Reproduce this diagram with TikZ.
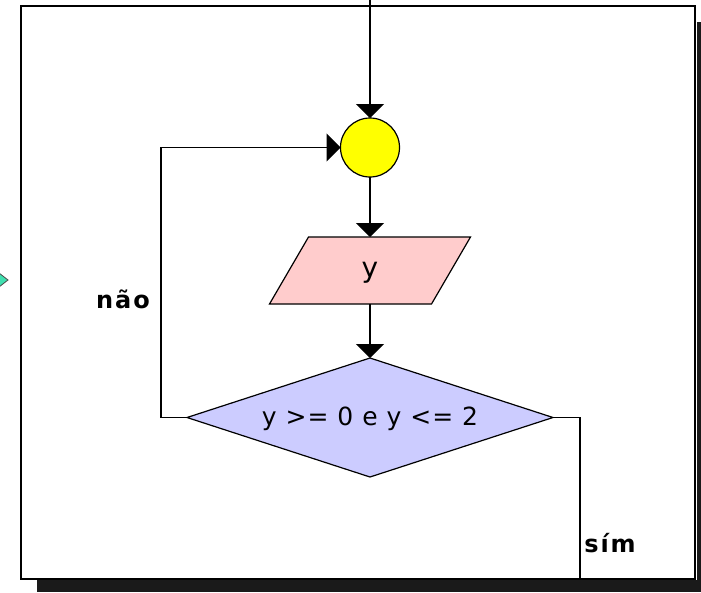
\documentclass[tikz,border=0pt]{standalone}
\usepackage{fontspec}
\setmainfont{DejaVu Sans}
\usetikzlibrary{shapes.geometric,arrows.meta}
\definecolor{yel}{RGB}{255,255,0}
\definecolor{pinkf}{RGB}{255,204,204}
\definecolor{lav}{RGB}{204,204,255}
\definecolor{mint}{RGB}{64,224,176}
\definecolor{shad}{RGB}{26,26,26}
\tikzset{
  conn/.style={line width=1.5pt, draw=black},
  arr/.style={conn, -{Triangle[length=14pt,width=28pt]}},
  lbl/.style={font=\fontsize{24}{26}\selectfont\bfseries\addfontfeatures{LetterSpace=8}, inner sep=0pt},
  txt/.style={font=\fontsize{25}{27}\selectfont\addfontfeatures{LetterSpace=4}, inner sep=0pt},
  bigtxt/.style={font=\fontsize{28}{30}\selectfont, inner sep=0pt},
  junction/.style={circle, draw=black, line width=1.2pt, fill=yel, minimum size=59pt, inner sep=0pt, outer sep=0pt},
  iobox/.style={rectangle, minimum width=162pt, minimum height=67pt, inner sep=0pt, outer sep=0pt},
  ioshape/.style={draw=black, line width=1.2pt, fill=pinkf},
  decision/.style={diamond, aspect=3.08, draw=black, line width=1.2pt, fill=lav, minimum width=366pt, minimum height=119pt, inner sep=0pt, outer sep=0pt},
}
\begin{document}
\begin{tikzpicture}[x=1pt,y=-1pt]
\useasboundingbox (0,0) rectangle (701,592);
% shadow
\fill[shad] (697,22) rectangle (701,592);
\fill[shad] (37,580) rectangle (701,592);
% frame
\draw[line width=1.5pt, fill=white] (21,6) rectangle (695,579);
% partial mint arrowhead at left edge
\draw[fill=mint, line width=0.8pt, draw=black!70] (-1,273) -- (8,280) -- (-1,287) -- cycle;
% nodes
\node[junction] (c) at (370,147.5) {};
\node[iobox] (p) at (370,270.5) {};
\draw[ioshape] ([xshift=19.5pt]p.north west) -- ([xshift=19.5pt]p.north east)
  -- ([xshift=-19.5pt]p.south east) -- ([xshift=-19.5pt]p.south west) -- cycle;
\node[bigtxt] at ([yshift=-2pt]p.center) {y};
\node[decision] (d) at (370,417.5) {};
\node[txt] at ([yshift=-1pt]d.center) {y >= 0 e y <= 2};
\node[lbl] (nao) at (123,299) {não};
\node[lbl] (sim) at (610,543) {sím};
% coordinates
\coordinate (top) at (370,0);
\coordinate (lp) at (161,417.5);
\coordinate (rb) at (580,579);
% connectors
\draw[arr] (top) -- (c.north);
\draw[arr] (c.south) -- (p.north);
\draw[arr] (p.south) -- (d.north);
\draw[arr] (d.west) -- (lp) |- (c.west);
\draw[conn] (d.east) -| (rb);
\end{tikzpicture}
\end{document}
